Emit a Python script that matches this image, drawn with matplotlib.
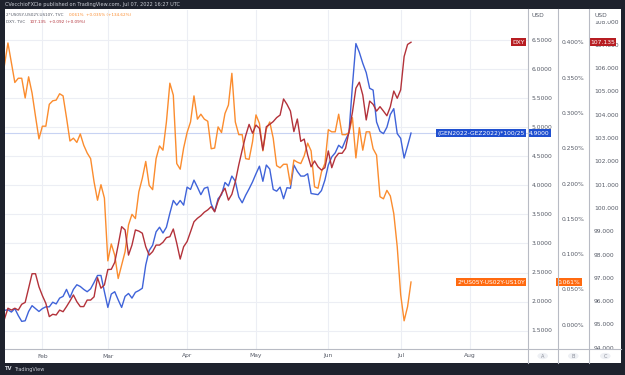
import numpy as np
import pandas as pd
import matplotlib
matplotlib.use("Agg")
import matplotlib.pyplot as plt
from matplotlib.transforms import blended_transform_factory
from matplotlib.patches import Rectangle, Circle
from matplotlib.lines import Line2D

plt.rcParams['font.family'] = ['DejaVu Sans']

# trading days (US holidays skipped), bar index is the x axis like on TradingView
holidays = ['2022-01-17', '2022-02-21', '2022-04-15', '2022-05-30', '2022-06-20', '2022-07-04']
dates = pd.bdate_range('2022-01-14', '2022-08-31', freq='C', holidays=holidays)

# (GEN2022-GEZ2022)*100/25, USD, scale A
blue = [1.85, 1.86, 1.82, 1.88, 1.76, 1.66, 1.67, 1.83, 1.93, 1.88,
        1.83, 1.88, 1.91, 1.91, 1.99, 1.96, 2.06, 2.09, 2.21, 2.07,
        2.21, 2.29, 2.26, 2.21, 2.17, 2.22, 2.33, 2.45, 2.45, 2.17,
        1.90, 2.13, 2.17, 2.03, 1.90, 2.09, 2.14, 2.06, 2.16, 2.19,
        2.23, 2.63, 2.88, 2.97, 3.20, 3.28, 3.18, 3.28, 3.52, 3.74,
        3.66, 3.74, 3.66, 3.97, 3.93, 4.09, 3.97, 3.84, 3.95, 3.97,
        3.68, 3.55, 3.77, 3.84, 4.05, 3.99, 4.16, 4.07, 3.80, 3.70,
        3.83, 3.94, 4.06, 4.20, 4.33, 4.07, 4.35, 4.28, 3.93, 3.90,
        3.97, 3.77, 3.96, 3.95, 4.35, 4.24, 4.16, 4.16, 4.20, 3.86,
        3.85, 3.84, 3.91, 4.09, 4.35, 4.49, 4.56, 4.69, 4.64, 4.78,
        4.91, 5.72, 6.44, 6.29, 6.10, 5.94, 5.67, 5.64, 5.09, 4.93,
        4.89, 5.00, 5.22, 5.32, 4.89, 4.81, 4.47, 4.68, 4.90]

# 2*US05Y-US02Y-US10Y, percent, scale B
orange = [0.369, 0.400, 0.372, 0.344, 0.350, 0.350, 0.322, 0.352, 0.329, 0.296,
          0.264, 0.282, 0.282, 0.313, 0.318, 0.319, 0.328, 0.325, 0.294, 0.261,
          0.265, 0.259, 0.271, 0.255, 0.244, 0.236, 0.203, 0.177, 0.199, 0.180,
          0.091, 0.115, 0.099, 0.066, 0.085, 0.104, 0.142, 0.157, 0.151, 0.189,
          0.208, 0.232, 0.198, 0.192, 0.236, 0.254, 0.248, 0.288, 0.343, 0.326,
          0.229, 0.221, 0.251, 0.273, 0.288, 0.325, 0.292, 0.299, 0.292, 0.289,
          0.250, 0.251, 0.281, 0.273, 0.300, 0.312, 0.357, 0.288, 0.270, 0.270,
          0.236, 0.235, 0.260, 0.298, 0.286, 0.247, 0.278, 0.288, 0.265, 0.226,
          0.223, 0.228, 0.228, 0.199, 0.234, 0.231, 0.229, 0.240, 0.258, 0.247,
          0.196, 0.194, 0.217, 0.229, 0.277, 0.274, 0.274, 0.299, 0.270, 0.270,
          0.273, 0.294, 0.237, 0.280, 0.248, 0.274, 0.274, 0.250, 0.241, 0.182,
          0.179, 0.191, 0.183, 0.158, 0.111, 0.043, 0.006, 0.026, 0.061]

# DXY, scale C
red = [95.26, 95.72, 95.64, 95.72, 95.64, 95.89, 95.97, 96.58, 97.20, 97.20,
       96.64, 96.26, 95.93, 95.36, 95.46, 95.43, 95.64, 95.57, 95.79, 96.03,
       96.29, 96.00, 95.79, 95.79, 96.07, 96.07, 96.21, 97.03, 96.58, 96.72,
       97.38, 97.39, 97.69, 98.43, 99.22, 99.08, 98.00, 98.43, 99.08, 99.03,
       98.94, 98.36, 98.00, 98.15, 98.43, 98.43, 98.55, 98.75, 98.79, 99.12,
       98.51, 97.83, 98.36, 98.58, 99.00, 99.43, 99.58, 99.69, 99.84, 99.94,
       100.08, 99.86, 100.32, 100.65, 100.87, 100.36, 100.61, 101.15, 101.87, 102.51,
       103.12, 103.61, 103.23, 103.58, 103.44, 102.51, 103.51, 103.61, 103.73, 103.90,
       104.01, 104.70, 104.47, 104.18, 103.30, 103.84, 102.88, 102.98, 102.30, 101.79,
       102.04, 101.79, 101.65, 101.75, 102.47, 101.75, 102.18, 102.37, 102.37, 102.58,
       103.30, 104.13, 105.16, 105.42, 104.87, 103.80, 104.61, 104.47, 104.18, 104.37,
       104.18, 103.98, 104.37, 105.04, 104.73, 105.09, 106.52, 107.04, 107.135]

ticks_a = [1.5, 2.0, 2.5, 3.0, 3.5, 4.0, 4.5, 5.0, 5.5, 6.0, 6.5]
ticks_b = [0.0, 0.05, 0.10, 0.15, 0.20, 0.25, 0.30, 0.35, 0.40]
ticks_c = [94, 95, 96, 97, 98, 99, 100, 101, 102, 103, 104, 105, 106, 107, 108]
months = ['Feb', 'Mar', 'Apr', 'May', 'Jun', 'Jul', 'Aug']

BLUE = '#3f63d9'
ORANGE = '#fb8c2e'
RED = '#b3323a'
BG = '#1e222d'
GRID = '#eceef4'
SEP = '#b8bbc4'
LBL = '#555a66'

W, H = 625, 375


def fx(x):
    return x / W


def fy(y):
    return 1 - y / H


fig = plt.figure(figsize=(6.25, 3.75), dpi=100, facecolor=BG)
# white panel, kept below the axes
fig.patches.append(Rectangle((fx(4.5), fy(363)), (621 - 4.5) / W, (363 - 9) / H,
                             transform=fig.transFigure, facecolor='white', edgecolor='none', zorder=-5))

L, R, T, B = 4.5, 528, 9.5, 349
ax = fig.add_axes([fx(L), fy(B), (R - L) / W, (B - T) / H])
ax_b = ax.twinx()
ax_c = ax.twinx()

x = np.arange(len(blue))
px_bar = 3.445
ax.set_xlim(0, (R - L) / px_bar)
ax.set_ylim(1.1845, 7.026)
ax_b.set_ylim(-0.034, 0.4475)
ax_c.set_ylim(93.97, 108.54)

for a in (ax, ax_b, ax_c):
    a.set_facecolor('none')
    for s in a.spines.values():
        s.set_visible(False)
    a.tick_params(left=False, right=False, bottom=False, labelleft=False,
                  labelright=False, labelbottom=False)

# grid
for t in ticks_a:
    ax.axhline(t, color=GRID, lw=0.8, zorder=0)
month_pos = []
for m in range(2, 9):
    idx = int(np.argmax((dates.month == m)))
    month_pos.append(idx)
    ax.axvline(idx, color=GRID, lw=0.8, zorder=0)

# last price line for blue
ax.axhline(blue[-1], color='#c8d3f3', lw=0.8, zorder=1)

ax.plot(x, blue, color=BLUE, lw=1.0, zorder=3)
ax_b.plot(x, orange, color=ORANGE, lw=1.0, zorder=3)
ax_c.plot(x, red, color=RED, lw=1.0, zorder=3)

# legend lines in top-left
fs_leg = 3.0
tr = fig.transFigure
fig.text(fx(6), fy(14.5), '2*US05Y-US02Y-US10Y, TVC', color=LBL, fontsize=fs_leg, va='center')
fig.text(fx(69), fy(14.5), '0.061%', color=ORANGE, fontsize=fs_leg, va='center')
fig.text(fx(86), fy(14.5), '+0.035% (+134.62%)', color=ORANGE, fontsize=fs_leg, va='center')
fig.text(fx(6), fy(22), 'DXY, TVC', color=LBL, fontsize=fs_leg, va='center')
fig.text(fx(30), fy(22), '107.135', color=RED, fontsize=fs_leg, va='center')
fig.text(fx(49), fy(22), '+0.092 (+0.09%)', color=RED, fontsize=fs_leg, va='center')

# header / footer on the dark frame
fig.text(fx(5), fy(4.5), 'CVecchioFXCIe published on TradingView.com, Jul 07, 2022 16:27 UTC',
         color='#c9ccd4', fontsize=3.6, va='center')
fig.text(fx(4), fy(369), 'TV', color='#d1d4dc', fontsize=3.8, fontweight='bold', va='center')
fig.text(fx(14), fy(369), 'TradingView', color='#c9ccd4', fontsize=3.6, va='center')

# price scale columns
fs = 4.3
col_a = fig.add_axes([fx(R), fy(B), (557.5 - R) / W, (B - T) / H])
col_b = fig.add_axes([fx(557.5), fy(B), (589 - 557.5) / W, (B - T) / H])
col_c = fig.add_axes([fx(589), fy(B), (621 - 589) / W, (B - T) / H])
for c, lim in ((col_a, ax.get_ylim()), (col_b, ax_b.get_ylim()), (col_c, ax_c.get_ylim())):
    c.set_xlim(0, 1)
    c.set_ylim(*lim)
    c.axis('off')

for t in ticks_a:
    col_a.text(0.12, t, f'{t:.4f}', color=LBL, fontsize=fs, va='center', clip_on=True)
for t in ticks_b:
    col_b.text(0.14, t, f'{t:.3f}%', color=LBL, fontsize=fs, va='center', clip_on=True)
for t in ticks_c:
    col_c.text(0.16, t, f'{t:.3f}', color=LBL, fontsize=fs, va='center', clip_on=True)

col_a.text(0.12, 0.983, 'USD', transform=col_a.transAxes, color=LBL, fontsize=fs, va='center',
           bbox=dict(boxstyle='square,pad=0.25', fc='white', ec='none'))
col_c.text(0.16, 0.983, 'USD', transform=col_c.transAxes, color=LBL, fontsize=fs, va='center',
           bbox=dict(boxstyle='square,pad=0.6', fc='white', ec='none'))


# last value tags
def tag(axis, xpos, y, s, color):
    axis.text(xpos, y, s, color='white', fontsize=fs, va='center', ha='left', zorder=6,
              bbox=dict(boxstyle='square,pad=0.22', fc=color, ec='none'))


tag(col_a, 0.04, blue[-1], f'{blue[-1]:.4f}', '#1f4fd0')
tag(col_b, 0.0, orange[-1], f'{orange[-1]:.3f}%', '#ff6a10')
tag(col_c, 0.04, red[-1], f'{red[-1]:.3f}', '#b71d22')

tb = blended_transform_factory(ax.transAxes, ax.transData)
ax.text(0.994, blue[-1], '(GEN2022-GEZ2022)*100/25', transform=tb, color='white', fontsize=fs,
        va='center', ha='right', zorder=6, bbox=dict(boxstyle='square,pad=0.22', fc='#1f4fd0', ec='none'))
tb = blended_transform_factory(ax_b.transAxes, ax_b.transData)
ax_b.text(0.994, orange[-1], '2*US05Y-US02Y-US10Y', transform=tb, color='white', fontsize=fs,
          va='center', ha='right', zorder=6, bbox=dict(boxstyle='square,pad=0.22', fc='#ff6a10', ec='none'))
tb = blended_transform_factory(ax_c.transAxes, ax_c.transData)
ax_c.text(0.994, red[-1], 'DXY', transform=tb, color='white', fontsize=fs,
          va='center', ha='right', zorder=6, bbox=dict(boxstyle='square,pad=0.22', fc='#b71d22', ec='none'))

# time axis labels
for pos, name in zip(month_pos, months):
    xf = fx(L + pos * px_bar)
    fig.text(xf, fy(356), name, color=LBL, fontsize=fs, ha='center', va='center')

# separators
for xs in (R, 557.5, 589):
    fig.lines.append(Line2D([fx(xs), fx(xs)], [fy(9), fy(363)], transform=tr, color=SEP, lw=0.8))
fig.lines.append(Line2D([fx(4.5), fx(621)], [fy(B), fy(B)], transform=tr, color=SEP, lw=0.8))

# scale letters in the corner
for xs, letter in ((542.7, 'A'), (573.3, 'B'), (605.3, 'C')):
    fig.patches.append(Circle((fx(xs), fy(356)), 0.0085, transform=tr, facecolor='#eef0f4',
                              edgecolor='none'))
    fig.text(fx(xs), fy(356), letter, color='#8a8e99', fontsize=3.6, ha='center', va='center')

fig.savefig('out.png', dpi=100, facecolor=BG)
